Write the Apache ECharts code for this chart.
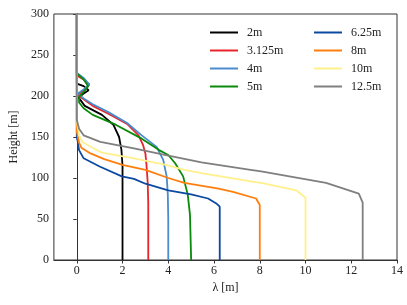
<!DOCTYPE html>
<html><head><meta charset="utf-8">
<script src="https://cdn.jsdelivr.net/npm/echarts@6/dist/echarts.min.js"></script>
<style>html,body{margin:0;padding:0;background:#fff}#c{width:407px;height:305px}</style>
</head><body><div id="c"></div>
<script>
var names = ['2m','3.125m','4m','5m','6.25m','8m','10m','12.5m'];
var colors = ['#000000','#e8252a','#4a8ccc','#0a8a0a','#0b4aa0','#ff7f0e','#fff08c','#7f7f7f'];
var xTicks = [0,2,4,6,8,10,12,14];
var yTicks = [0,50,100,150,200,250,300];

var s2m = [[0,300],[0,215],[0.3,212],[0.52,207],[0.3,203],[0.08,198],[0.35,188],[1.1,177],[1.6,165],[1.85,150],[1.95,135],[2,115],[2,0]];
var s3125 = [[0,300],[0,225],[0.3,220],[0.55,214],[0.3,207],[0.05,201],[0.3,196],[0.7,188],[1.4,178],[2.2,166],[2.7,152],[2.9,140],[3.0,130],[3.05,115],[3.1,95],[3.125,70],[3.125,0]];
var s4 = [[0,300],[0,228],[0.3,222],[0.55,214],[0.3,208],[0.05,203],[0.3,197],[0.7,190],[1.4,180],[2.2,167],[2.84,152],[3.49,138],[3.78,122],[3.93,102],[3.98,80],[4,50],[4,0]];
var s5 = [[0,300],[0,228],[0.3,220],[0.5,212],[0.3,205],[0.1,199],[0.1,192],[0.3,185],[0.7,177],[1.7,165],[2.84,148],[3.6,134],[4.0,128],[4.3,118],[4.65,102],[4.85,80],[4.95,55],[5,0]];
var s625 = [[0,300],[0,150],[0.04,145],[0.1,134],[0.3,124],[1.0,114],[1.97,102],[2.5,99],[3.0,93],[4,85],[5,80],[5.74,75],[6.1,69],[6.25,65],[6.25,0]];
var s8 = [[0,300],[0,157],[0.05,150],[0.1,143],[0.2,137],[0.6,130],[1.2,123],[2,116],[3,110],[4,100],[4.7,94],[6.2,87],[6.83,83],[7.84,75],[8.0,67],[8,0]];
var s10 = [[0,300],[0,170],[0.05,160],[0.1,152],[0.25,144],[0.75,136],[1.1,131],[2.5,124],[3.9,116],[4.7,110],[5.45,106],[7.6,96],[8.06,94],[9.6,85],[10,76],[10,0]];
var s125 = [[0,300],[0,171],[0.1,160],[0.3,152],[1.03,144],[2.5,136],[3.9,128],[5.45,119],[7.6,110],[8.06,108],[10.9,94],[12.33,81],[12.5,70],[12.5,0]];
var allData = [s2m,s3125,s4,s5,s625,s8,s10,s125];

var font = 'Liberation Serif';
var chart = echarts.init(document.getElementById('c'), null, {renderer:'canvas'});
var series = allData.map(function(d,i){
  return {name:names[i], type:'line', data:d, showSymbol:false, symbol:'none',
    lineStyle:{color:colors[i], width:1.8}, itemStyle:{color:colors[i]}, animation:false, z:2+i};
});
function legend(list, left){
  return {data:list, orient:'vertical', left:left, top:26, itemWidth:28, itemHeight:2, icon:'rect',
    itemGap:5, padding:0, textStyle:{fontFamily:font, fontSize:12, color:'#222', lineHeight:13, padding:[0,0,0,4]}};
}
chart.setOption({
  animation:false,
  grid:{left:52, right:10, top:14, bottom:45, show:true, borderColor:'#333', borderWidth:1},
  legend:[legend(names.slice(0,4),210), legend(names.slice(4),314)],
  xAxis:{type:'value', min:-1, max:14, name:'λ [m]', nameLocation:'middle', nameGap:22,
    nameTextStyle:{fontFamily:font, fontSize:12, color:'#222'},
    axisLine:{show:true, onZero:false, lineStyle:{color:'#333'}},
    axisTick:{show:true, length:3.5, inside:false, customValues:xTicks, lineStyle:{color:'#333'}},
    axisLabel:{customValues:xTicks, fontFamily:font, fontSize:12, color:'#222', margin:5},
    splitLine:{show:false}},
  yAxis:{type:'value', min:0, max:300, name:'Height [m]', nameLocation:'middle', nameGap:32,
    nameTextStyle:{fontFamily:font, fontSize:12, color:'#222'},
    axisLine:{show:true, lineStyle:{color:'#333'}},
    axisTick:{show:true, length:3.5, customValues:yTicks, lineStyle:{color:'#333'}},
    axisLabel:{customValues:yTicks, fontFamily:font, fontSize:12, color:'#222', margin:5},
    splitLine:{show:false}},
  series:series
});
</script></body></html>
